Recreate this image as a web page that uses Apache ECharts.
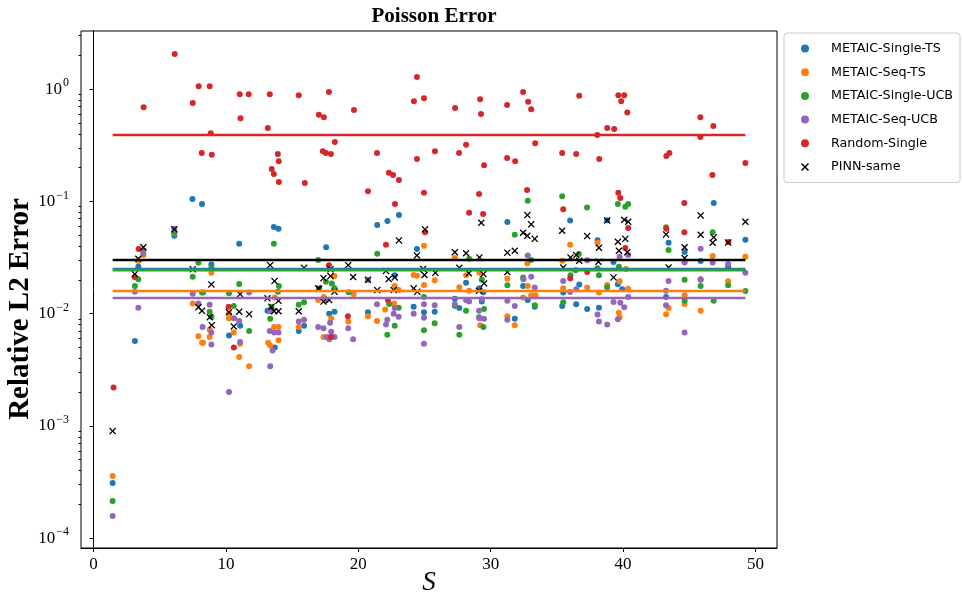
<!DOCTYPE html>
<html><head><meta charset="utf-8">
<script src="https://cdn.jsdelivr.net/npm/echarts@6/dist/echarts.min.js"></script>
<style>html,body{margin:0;padding:0;background:#fff}#c{width:963px;height:596px}</style>
</head><body><div id="c"></div>
<script>
// ---- data (S, relative L2 error) ----
const seriesNames = ['METAIC-Single-TS','METAIC-Seq-TS','METAIC-Single-UCB','METAIC-Seq-UCB','Random-Single','PINN-same'];
const xTicks = [0,10,20,30,40,50];
const yTicks = [1e-4,1e-3,1e-2,1e-1,1];
const yTickExponents = ['−4','−3','−2','−1','0'];
const yMinorTicks = [2e-4,3e-4,4e-4,5e-4,6e-4,7e-4,8e-4,9e-4,2e-3,3e-3,4e-3,5e-3,6e-3,7e-3,8e-3,9e-3,2e-2,3e-2,4e-2,5e-2,6e-2,7e-2,8e-2,9e-2,0.2,0.3,0.4,0.5,0.6,0.7,0.8,0.9,2,3];
const meanRange = [1.44, 49.24];
const meanLevels = [0.0250, 0.0159, 0.0244, 0.0138, 0.39, 0.030];

const singleTS = [[1.44,0.00031],[7.47,0.105],[8.19,0.0945],[6.1,0.0494],[3.38,0.0262],[3.12,0.0057],[8.9,0.0274],[13.62,0.059],[13.97,0.057],[11.0,0.042],[11.07,0.0078],[10.23,0.0064],[13.69,0.005],[13.14,0.0106],[15.5,0.007],[15.9,0.0078],[23.07,0.0755],[21.43,0.0615],[22.2,0.067],[17.57,0.039],[24.43,0.0376],[22.75,0.022],[20.73,0.0103],[17.8,0.01],[18.2,0.0104],[24.18,0.0115],[24.96,0.0103],[25.77,0.0104],[31.26,0.0654],[28.14,0.0188],[32.45,0.0176],[29.15,0.0168],[29.45,0.0155],[27.29,0.0136],[27.63,0.0112],[29.33,0.0128],[31.82,0.009],[32.8,0.0132],[33.33,0.0115],[36.0,0.0677],[38.07,0.045],[39.28,0.0288],[36.69,0.0182],[39.61,0.0183],[35.48,0.0154],[39.94,0.0165],[35.4,0.0117],[36.46,0.0121],[37.29,0.011],[38.18,0.0113],[43.25,0.0141],[43.44,0.0428],[46.85,0.0965],[49.24,0.0455],[44.65,0.0354],[45.86,0.0294],[47.94,0.0262],[38.8,0.068]];

const seqTS = [[1.44,0.000358],[6.1,0.0522],[3.76,0.0332],[3.38,0.0294],[7.49,0.0123],[7.92,0.0063],[8.19,0.0055],[8.9,0.0231],[10.23,0.0101],[10.23,0.0091],[10.59,0.0068],[8.77,0.0072],[8.77,0.0062],[8.27,0.0055],[11.07,0.0054],[11.0,0.0041],[11.75,0.0034],[13.69,0.0139],[13.64,0.0076],[13.97,0.0076],[13.97,0.0058],[13.18,0.0055],[13.34,0.0052],[15.5,0.0076],[16.97,0.0132],[24.96,0.0402],[24.18,0.0221],[24.43,0.0218],[25.77,0.0198],[18.2,0.0216],[19.64,0.0149],[23.05,0.0162],[22.75,0.0176],[24.96,0.018],[17.39,0.0141],[22.7,0.0123],[22.03,0.0109],[20.73,0.0095],[21.41,0.0086],[17.95,0.0091],[17.37,0.0062],[19.24,0.0085],[27.29,0.0313],[32.77,0.028],[28.14,0.022],[29.15,0.0231],[31.26,0.0204],[32.8,0.0176],[27.63,0.0172],[28.37,0.016],[33.06,0.0146],[33.38,0.0146],[32.45,0.0139],[29.2,0.0079],[31.26,0.0095],[31.82,0.0079],[36.0,0.041],[38.07,0.0428],[35.4,0.0296],[40.22,0.025],[39.74,0.0194],[38.8,0.018],[35.48,0.0168],[37.29,0.0171],[38.18,0.0154],[40.39,0.0167],[39.68,0.0102],[39.74,0.0093],[43.44,0.0112],[43.25,0.0099],[46.77,0.0326],[49.24,0.0321],[47.94,0.0194],[44.65,0.0146],[44.65,0.0122],[45.86,0.0106]];

const singleUCB = [[1.44,0.000214],[6.1,0.0532],[3.76,0.0363],[3.38,0.0202],[3.12,0.0176],[7.92,0.0284],[7.49,0.0213],[8.19,0.0154],[8.9,0.0256],[8.77,0.0104],[8.9,0.0094],[13.62,0.042],[16.97,0.03],[11.0,0.0184],[14.0,0.0176],[13.93,0.0157],[8.27,0.0154],[10.23,0.0152],[10.59,0.0117],[11.75,0.007],[13.34,0.009],[13.44,0.0115],[15.5,0.012],[15.9,0.0126],[21.43,0.0341],[17.55,0.0192],[18.0,0.0186],[17.04,0.0168],[18.2,0.0168],[19.27,0.0155],[24.96,0.0141],[22.33,0.0122],[23.05,0.0113],[22.75,0.0078],[22.19,0.0065],[24.96,0.0071],[25.77,0.0082],[32.8,0.101],[31.82,0.0504],[28.37,0.0308],[33.06,0.03],[29.33,0.02],[31.26,0.0179],[32.45,0.021],[27.29,0.0117],[28.14,0.0106],[29.5,0.011],[29.12,0.0093],[29.45,0.0076],[33.33,0.0119],[27.63,0.0065],[35.4,0.111],[37.28,0.088],[39.61,0.0945],[40.17,0.0895],[40.39,0.0945],[36.66,0.034],[39.69,0.0262],[36.41,0.0244],[38.07,0.0254],[36.03,0.022],[38.18,0.022],[38.8,0.0172],[35.48,0.0126],[43.25,0.0587],[43.44,0.0368],[46.77,0.053],[44.65,0.02],[45.86,0.0176],[45.86,0.0202],[47.94,0.0179],[44.65,0.013],[46.85,0.013],[49.24,0.0159]];

const seqUCB = [[1.44,0.000158],[6.1,0.057],[3.76,0.0345],[3.12,0.0157],[3.38,0.0113],[7.49,0.015],[7.92,0.0123],[8.24,0.0076],[11.75,0.0154],[8.77,0.012],[10.61,0.0091],[11.0,0.0086],[8.9,0.0068],[8.9,0.0053],[11.07,0.0056],[13.34,0.0034],[10.23,0.002],[13.31,0.007],[13.64,0.0068],[13.97,0.0068],[13.52,0.0047],[13.34,0.0105],[15.5,0.0085],[15.9,0.0088],[16.97,0.0076],[17.55,0.0132],[21.41,0.0121],[22.75,0.0112],[22.67,0.01],[23.05,0.0094],[22.19,0.0088],[22.09,0.008],[17.87,0.0083],[17.37,0.0074],[17.95,0.0069],[17.62,0.0062],[17.8,0.0059],[18.2,0.0062],[19.24,0.0074],[19.61,0.0059],[20.73,0.0199],[24.18,0.01],[24.96,0.0121],[24.96,0.0092],[24.96,0.0054],[25.77,0.0119],[32.8,0.033],[32.47,0.0202],[33.06,0.0213],[33.33,0.0171],[27.29,0.0122],[28.14,0.0132],[28.37,0.0128],[29.33,0.0134],[29.12,0.0106],[29.15,0.0091],[29.5,0.009],[31.26,0.013],[31.82,0.0117],[31.26,0.0088],[27.63,0.0076],[39.74,0.0321],[40.39,0.0333],[37.29,0.0299],[35.48,0.0195],[43.44,0.0195],[36.46,0.0165],[36.0,0.0156],[40.39,0.0141],[43.25,0.016],[39.28,0.0127],[39.79,0.0125],[40.09,0.0114],[43.25,0.0119],[38.07,0.0098],[39.61,0.0089],[38.18,0.0085],[38.8,0.008],[45.86,0.0378],[44.65,0.0286],[46.77,0.0286],[47.94,0.0277],[49.24,0.0231],[45.86,0.02],[44.65,0.0068]];

const randomSingle = [[1.51,0.0022],[3.1,0.0212],[3.4,0.0376],[3.78,0.69],[6.13,2.05],[7.49,0.75],[7.94,1.06],[8.17,0.27],[8.77,1.06],[8.85,0.405],[8.93,0.26],[10.2,0.0115],[10.6,0.005],[11.04,0.9],[11.1,0.55],[11.72,0.9],[13.16,0.45],[13.31,0.9],[13.46,0.194],[13.62,0.175],[13.92,0.264],[13.99,0.228],[14.0,0.149],[15.5,0.88],[15.96,0.146],[17.02,0.59],[17.4,0.56],[17.32,0.28],[17.55,0.27],[17.78,0.94],[17.93,0.264],[17.78,0.027],[17.93,0.0062],[18.23,0.337],[19.21,0.0095],[19.67,0.65],[20.73,0.123],[21.41,0.27],[22.09,0.041],[22.24,0.0132],[22.31,0.18],[22.62,0.172],[22.77,0.0945],[23.07,0.155],[24.2,0.78],[24.43,1.28],[24.43,0.238],[24.96,0.83],[24.96,0.119],[25.04,0.053],[25.79,0.28],[27.31,0.68],[27.61,0.27],[28.14,0.32],[28.37,0.079],[29.12,0.116],[29.2,0.81],[29.27,0.6],[29.43,0.077],[29.5,0.21],[31.24,0.72],[31.24,0.243],[31.85,0.228],[32.45,0.94],[32.75,0.126],[32.83,0.77],[33.06,0.66],[33.36,0.33],[35.4,0.27],[35.48,0.085],[36.01,0.0207],[36.46,0.264],[36.69,0.87],[37.29,0.0235],[38.05,0.39],[38.2,0.238],[38.8,0.45],[39.33,0.44],[39.64,0.88],[39.64,0.119],[39.79,0.107],[39.86,0.78],[40.09,0.88],[40.17,0.0384],[40.32,0.62],[40.39,0.058],[43.27,0.253],[43.27,0.057],[43.5,0.27],[44.63,0.0965],[44.63,0.053],[45.84,0.56],[45.84,0.374],[46.75,0.172],[46.82,0.47],[47.96,0.0434],[49.24,0.22]];

const pinnSame = [[1.44,0.0009],[6.1,0.0563],[3.76,0.039],[3.38,0.0308],[3.12,0.0225],[7.49,0.0248],[7.92,0.0114],[8.19,0.0106],[13.34,0.027],[15.9,0.0256],[8.9,0.0182],[13.67,0.0195],[11.07,0.0149],[16.97,0.0168],[13.14,0.0137],[13.97,0.013],[10.23,0.0103],[11.0,0.0104],[11.75,0.0099],[8.78,0.0093],[8.93,0.0079],[10.59,0.0077],[13.44,0.0115],[13.64,0.0105],[13.97,0.0105],[15.5,0.0105],[25.04,0.0563],[23.07,0.0449],[24.43,0.033],[19.24,0.027],[17.9,0.0248],[22.09,0.024],[24.9,0.025],[25.0,0.0221],[25.82,0.0231],[17.37,0.0207],[17.9,0.0216],[19.61,0.0212],[20.73,0.02],[22.29,0.0203],[22.75,0.021],[17.04,0.0166],[18.2,0.0157],[21.43,0.0162],[22.67,0.0162],[24.18,0.0168],[24.46,0.0157],[17.37,0.0128],[17.8,0.0132],[29.29,0.0645],[32.77,0.0755],[33.06,0.0624],[32.45,0.0525],[32.77,0.0494],[33.33,0.0464],[27.29,0.0352],[28.14,0.0345],[29.15,0.0317],[31.26,0.0349],[31.82,0.0363],[27.63,0.0256],[28.35,0.0229],[29.45,0.0225],[29.5,0.0186],[31.26,0.0235],[29.11,0.016],[38.8,0.0677],[40.09,0.0686],[40.39,0.0658],[35.4,0.0547],[37.29,0.0491],[43.25,0.0508],[38.18,0.0386],[39.61,0.0437],[40.17,0.0464],[39.69,0.0363],[40.32,0.0352],[36.03,0.0317],[36.46,0.0332],[36.69,0.0296],[38.14,0.029],[35.48,0.0258],[43.44,0.0258],[39.28,0.021],[45.86,0.075],[49.24,0.0658],[45.86,0.0504],[46.85,0.0478],[46.77,0.0428],[47.94,0.0431],[44.65,0.039],[44.65,0.0313]];

const colors = ['#1f77b4','#ff7f0e','#2ca02c','#9467bd','#d62728','#000000'];
const xShape = 'path://M0,1.3 L1.3,0 L5,3.7 L8.7,0 L10,1.3 L6.3,5 L10,8.7 L8.7,10 L5,6.3 L1.3,10 L0,8.7 L3.7,5 Z';
const pointSets = [singleTS, seqTS, singleUCB, seqUCB, randomSingle, pinnSame];

const serif = '"Liberation Serif","DejaVu Serif",serif';
const series = [];
pointSets.forEach((pts, i) => {
  series.push({
    name: seriesNames[i], type: 'scatter', data: pts,
    symbol: i === 5 ? xShape : 'circle',
    symbolSize: i === 5 ? 7 : 6,
    itemStyle: {color: colors[i], opacity: 1},
    z: 2 + i, emphasis: {disabled: true}
  });
});
const lineOrder = [0, 2, 1, 3, 4, 5];
lineOrder.forEach(i => {
  series.push({
    name: seriesNames[i] + ' mean', type: 'line',
    data: [[meanRange[0], meanLevels[i]], [meanRange[1], meanLevels[i]]],
    symbol: 'none', lineStyle: {color: colors[i], width: 2.6},
    z: 10 + i, silent: true
  });
});

const chart = echarts.init(document.getElementById('c'), null, {renderer: 'canvas'});
chart.setOption({
  animation: false,
  backgroundColor: '#fff',
  title: {
    text: 'Poisson Error', left: 429, top: 1, textAlign: 'center',
    textStyle: {fontFamily: serif, fontWeight: 'bold', fontSize: 21, color: '#000'}
  },
  graphic: [{
    type: 'text', x: 21, y: 309, rotation: Math.PI / 2,
    style: {text: 'Relative L2 Error', fill: '#000', font: 'bold 29px "Liberation Serif","DejaVu Serif",serif', textAlign: 'center', textVerticalAlign: 'middle'}
  }, {
    type: 'text', x: 429, y: 583,
    style: {text: 'S', fill: '#000', font: 'italic 27px "Liberation Serif","DejaVu Serif",serif', textAlign: 'center', textVerticalAlign: 'middle'}
  }],
  legend: {
    orient: 'vertical', left: 784, top: 33,
    data: seriesNames.map((n, i) => ({name: n, icon: i === 5 ? xShape : 'circle'})),
    itemWidth: 8, itemHeight: 8, itemGap: 8.7,
    padding: [8, 7, 8, 17],
    borderColor: '#cccccc', borderWidth: 1, borderRadius: 3,
    backgroundColor: '#fff',
    textStyle: {fontFamily: '"DejaVu Sans",sans-serif', fontSize: 12.7, color: '#000', lineHeight: 15, padding: [0, 0, 0, 17]},
    selectedMode: false
  },
  grid: {left: 81, right: 186, top: 31, bottom: 48, show: true, borderColor: '#000', borderWidth: 1, containLabel: false, outerBoundsMode: 'none'},
  xAxis: {
    type: 'value', min: -0.95, max: 51.63,
    axisLine: {show: true, onZero: false, lineStyle: {color: '#000', width: 1}},
    axisTick: {show: true, customValues: xTicks, length: 4, lineStyle: {color: '#000'}},
    axisLabel: {customValues: xTicks, fontFamily: serif, fontSize: 17, color: '#000', margin: 8},
    splitLine: {show: false}
  },
  yAxis: [{
    type: 'log', logBase: 10, min: 8.18e-5, max: 3.29,
    axisLine: {show: true, lineStyle: {color: '#000', width: 1}},
    axisTick: {show: true, customValues: yTicks, length: 4, lineStyle: {color: '#000'}},
    axisLabel: {
      customValues: yTicks, margin: 12,
      formatter: v => {
        const k = yTicks.findIndex(t => Math.abs(Math.log10(t) - Math.log10(v)) < 1e-6);
        return '{b|10}{s|' + (k >= 0 ? yTickExponents[k] : '') + '}';
      },
      rich: {
        b: {fontFamily: serif, fontSize: 17, color: '#000', lineHeight: 20},
        s: {fontFamily: serif, fontSize: 12, color: '#000', lineHeight: 12, padding: [0, 0, 12, 1]}
      }
    },
    splitLine: {show: false}
  }, {
    type: 'log', logBase: 10, min: 8.18e-5, max: 3.29, position: 'left',
    axisLine: {show: false},
    axisTick: {show: true, customValues: yMinorTicks, length: 2.5, lineStyle: {color: '#000'}},
    axisLabel: {show: false},
    splitLine: {show: false}
  }],
  series: series
});
</script></body></html>
